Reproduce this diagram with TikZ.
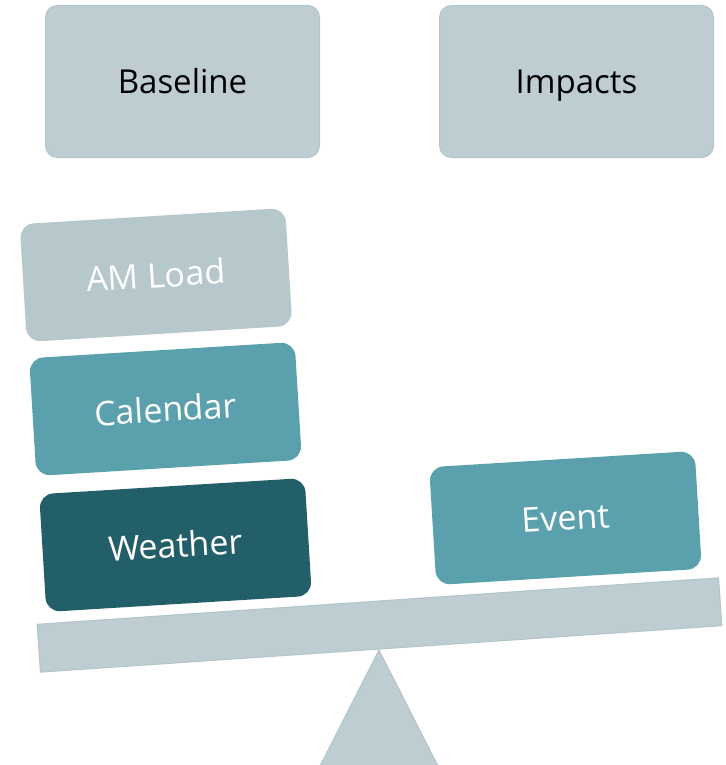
\documentclass[tikz,border=0pt]{standalone}
\usepackage{fontspec}
\setmainfont{Open Sans}
\definecolor{lightgb}{HTML}{BDCDD2}
\definecolor{lightgbline}{HTML}{B3C5CB}
\definecolor{amload}{HTML}{B7C8CD}
\definecolor{midteal}{HTML}{5BA1AD}
\definecolor{darkteal}{HTML}{235F69}
\tikzset{
  topbox/.style={rectangle, rounded corners=12pt, fill=lightgb, draw=lightgbline, line width=1pt,
    minimum width=274pt, minimum height=152pt, font=\fontsize{33}{36}\selectfont, text=black,
    text height=25pt, text depth=0pt},
  tiltbox/.style={rectangle, rounded corners=14pt, minimum width=266pt, minimum height=118pt,
    rotate=3.5, font=\fontsize{34}{38}\selectfont, text=white},
  beamshape/.style={rectangle, fill=lightgb, draw=lightgbline, line width=1pt,
    minimum width=683pt, minimum height=48pt, rotate=3.9},
}
\begin{document}
\begin{tikzpicture}[x=1pt, y=-1pt]
\useasboundingbox (0,0) rectangle (725,765);
\node[topbox] (baseline) at (182.5,81.5) {Baseline};
\node[topbox] (impacts) at (576.5,81.5) {Impacts};
\node[tiltbox, fill=amload] (amload) at (156,275) {AM Load};
\node[tiltbox, fill=midteal] (calendar) at (165.5,409) {Calendar};
\node[tiltbox, fill=darkteal] (weather) at (175.5,545) {Weather};
\node[tiltbox, fill=midteal] (event) at (565.5,518) {Event};
\coordinate (apex) at (379,650);
\coordinate (bl) at (320,766);
\coordinate (br) at (438,766);
\filldraw[fill=lightgb, draw=lightgbline, line width=1pt] (apex) -- (br) -- (bl) -- cycle;
\node[beamshape] (beam) at (379.5,625) {};
\end{tikzpicture}
\end{document}
